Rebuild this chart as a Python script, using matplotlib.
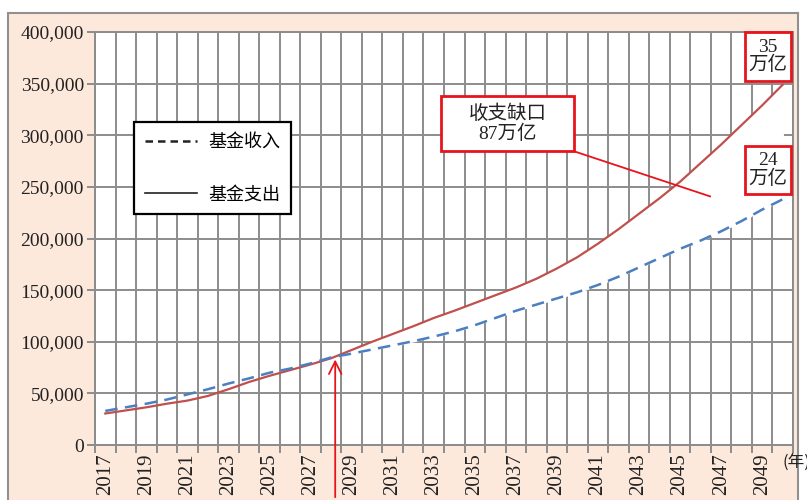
import numpy as np
import matplotlib
matplotlib.use("Agg")
import matplotlib.pyplot as plt
from matplotlib.lines import Line2D
from matplotlib.patches import Rectangle
from matplotlib.ticker import FuncFormatter, FixedLocator

# 年份与基金收支（亿元）
years = list(range(2017, 2051))
income = [33000, 36500, 40000, 44000, 49000, 54000, 59500, 64500, 70000, 74000,
          79000, 84800, 88500, 92500, 96500, 100500, 105000, 110000, 116000, 123000,
          130000, 136000, 142000, 148000, 155000, 163000, 172000, 181000, 190000, 198000,
          207000, 217000, 228000, 238000]
expense = [30500, 33500, 36500, 40000, 43000, 47500, 54000, 61000, 67000, 72500,
           78000, 84000, 92000, 100000, 107500, 115000, 123000, 130000, 137500, 145000,
           152500, 161000, 171000, 182000, 195000, 209000, 224000, 239000, 255000, 273000,
           291000, 310000, 329000, 349000]
label_years = list(range(2017, 2050, 2))
legend_labels = ["基金收入", "基金支出"]
gap_text = "收支缺口\n87万亿"
end_texts = ["35\n万亿", "24\n万亿"]
cross_year = 2028.2
cross_value = 85500

serif = ["Liberation Serif", "Noto Sans CJK SC"]
cjk = ["Noto Sans CJK SC", "DejaVu Sans"]

RED = "#c0504d"
BLUE = "#4a7fc1"
BOX_RED = "#e8141c"
GRID = "#8c8c8c"

fig = plt.figure(figsize=(8.07, 5.0), dpi=100)
fig.patch.set_facecolor("white")
# 外框底色
fig.patches.append(Rectangle((8 / 807, -0.01), 790 / 807, 0.984, transform=fig.transFigure,
                             facecolor="#fde9dc", edgecolor="#909090", lw=1.5, zorder=-5))

ax = fig.add_axes([95 / 807, 55 / 500, 698 / 807, 413 / 500])
ax.set_facecolor("white")
ax.set_xlim(2016.5, 2050.5)
ax.set_ylim(0, 400000)

# 网格：每年一格，纵向每 5 万一格
bounds = np.arange(2016.5, 2051, 1.0)
ax.xaxis.set_minor_locator(FixedLocator(bounds))
ax.xaxis.set_major_locator(FixedLocator(label_years))
ax.set_yticks(np.arange(0, 400001, 50000))
ax.grid(which="minor", axis="x", color=GRID, lw=1.4, zorder=1)
ax.grid(which="major", axis="y", color=GRID, lw=1.4, zorder=1)
ax.tick_params(axis="x", which="major", length=0, pad=6, rotation=90)
ax.tick_params(axis="x", which="minor", length=6, width=1.4, color=GRID)
ax.tick_params(axis="y", length=6, width=1.4, color=GRID, pad=2)
ax.yaxis.set_major_formatter(FuncFormatter(lambda v, p: f"{int(v):,}"))
for lab in ax.get_xticklabels():
    lab.set_fontfamily(serif)
    lab.set_fontsize(15)
    lab.set_color("#222222")
for lab in ax.get_yticklabels():
    lab.set_fontfamily(serif)
    lab.set_fontsize(14)
    lab.set_color("#222222")
for s in ax.spines.values():
    s.set_color(GRID)
    s.set_linewidth(1.4)

# 缺口区域白色填充
inc = np.array(income)
exp_ = np.array(expense)
ax.fill_between(years, inc, exp_, where=exp_ >= inc, interpolate=True,
                color="white", zorder=2)

ax.plot(years, expense, color=RED, lw=1.6, zorder=4)
ax.plot(years, income, color=BLUE, lw=1.8, dashes=(5, 3), zorder=4)

handles = [Line2D([], [], color="#222222", lw=1.8, dashes=(3, 2)),
           Line2D([], [], color="#222222", lw=1.2)]
leg = ax.legend(handles, legend_labels, loc="upper left", bbox_to_anchor=(0.056, 0.782),
                borderaxespad=0, fancybox=False, framealpha=1, edgecolor="black",
                prop={"family": cjk, "size": 13}, handlelength=2.9, labelspacing=1.9,
                borderpad=0.6, handletextpad=0.6)
leg.get_frame().set_linewidth(1.6)
leg.set_zorder(6)


def boxed(x0, x1, y0, y1, text, size, ls):
    ax.add_patch(Rectangle((x0, y0), x1 - x0, y1 - y0, facecolor="white",
                           edgecolor=BOX_RED, lw=2, zorder=7, clip_on=False))
    ax.text((x0 + x1) / 2, (y0 + y1) / 2, text, ha="center", va="center",
            fontsize=size, family=serif, linespacing=ls, color="#222222",
            zorder=8, clip_on=False)


boxed(2033.35, 2039.83, 284500, 337900, gap_text, 14, 1.1)
ax.plot([2039.83, 2046.46], [284500, 240800], color=BOX_RED, lw=1.3, zorder=5)
boxed(2048.16, 2050.40, 352500, 400000, end_texts[0], 14, 1.0)
boxed(2048.16, 2050.40, 243100, 289600, end_texts[1], 14, 1.0)

# 收支交叉点箭头
ax.annotate("", xy=(cross_year, cross_value), xycoords="data",
            xytext=(cross_year, 0.0), textcoords=("data", "figure fraction"),
            arrowprops=dict(arrowstyle="->,head_length=0.9,head_width=0.45",
                            color=BOX_RED, lw=1.3), zorder=8, annotation_clip=False)

fig.text(783 / 807, 38 / 500, "(年)", family=cjk, fontsize=12, color="#222222",
         ha="left", va="center")

fig.savefig("out.png", dpi=100)
